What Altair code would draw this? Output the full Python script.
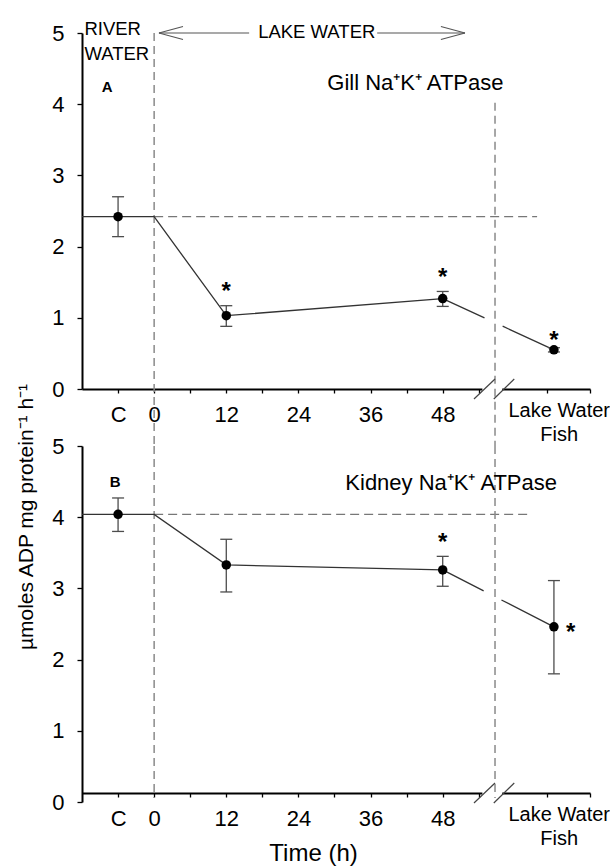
import altair as alt
import pandas as pd

FONT = "Liberation Sans"
NARROW = "Liberation Sans"

# ---------------- data ----------------
# x position in hours; C (river-water control) plotted at -6, lake-water fish at 66.5
times = [-6, 12, 48, 66.5]

gill_mean = [2.42, 1.03, 1.27, 0.55]
gill_lo = [2.14, 0.88, 1.16, 0.52]
gill_hi = [2.70, 1.17, 1.37, 0.58]
gill_star_x = [12, 48, 66.5]
gill_star_y = [1.45, 1.64, 0.76]

kid_mean = [4.04, 3.33, 3.26, 2.46]
kid_lo = [3.80, 2.95, 3.03, 1.80]
kid_hi = [4.27, 3.69, 3.45, 3.11]
kid_star_x = [48, 69.3]
kid_star_y = [3.72, 2.46]

x_tick_values = [-6, 0, 6, 12, 18, 24, 30, 36, 42, 48, 54, 65.4, 67.3, 72.5]
LW_LABEL = 67.3
y_tick_values = [0, 1, 2, 3, 4, 5]
X_DOMAIN = [-12, 72.5]
Y_DOMAIN = [0, 5]

transfer_x = 0          # river -> lake transfer (vertical dashed line)
lake_x = 56.7           # lake-water fish separator (vertical dashed line)
ref_end = [63.7, 62.8]  # end of horizontal control reference line (A, B)
break_gap = [54.6, 57.9]
slash_x1 = [53.2, 56.5]
slash_x2 = [56.7, 59.9]

# annotation geometry (data units)
arrow_shaft_x = [0.8, 37.1]
arrow_shaft_x2 = [15.8, 51.7]
arrow_arm_x = [0.8, 0.8, 51.7, 51.7]
arrow_arm_x2 = [4.8, 4.8, 47.7, 47.7]
arrow_arm_y2 = [5.09, 4.91, 5.09, 4.91]

W, H, GAP = 508, 356, 57

LABEL_EXPR = ("datum.value == -6 ? 'C' : datum.value == %s ? ['Lake Water', 'Fish'] : "
              "(datum.value >= 0 && datum.value <= 48 && datum.value %% 12 == 0) ? datum.label : ''") % LW_LABEL


def x_axis(title, offset):
    kw = dict(
        values=x_tick_values, labelExpr=LABEL_EXPR,
        tickSize={"condition": {"test": "datum.value == %s" % LW_LABEL, "value": 0}, "value": 4},
        labelFontSize={"condition": {"test": "datum.value == %s" % LW_LABEL, "value": 20}, "value": 22},
        labelLineHeight=24, labelPadding=11, labelOverlap=False, labelFlush=False, labelBound=False,
        labelFont=FONT, labelColor="black", domainColor="black", domainWidth=2,
        tickColor="black", tickWidth=1.3, grid=False, offset=offset,
    )
    if title:
        kw.update(title=title, titleFont=FONT, titleFontSize=24, titleFontWeight="normal",
                  titleColor="black", titleX=231, titleY=67, titleBaseline="alphabetic",
                  titleAlign="center", titleAnchor="middle")
    else:
        kw.update(title=None)
    return alt.Axis(**kw)


Y_AXIS = alt.Axis(values=y_tick_values, format="d", tickSize=5, labelFontSize=22, labelFont=FONT,
                  labelColor="black", labelPadding=13, domainColor="black", domainWidth=2,
                  tickColor="black", tickWidth=1.3, grid=False, title=None)


def panel(mean, lo, hi, sx, sy, letter, lx, ly, label, tx, ty, rend, xax, axis_px, top):
    xs = alt.Scale(domain=X_DOMAIN, nice=False, zero=False)
    ys = alt.Scale(domain=Y_DOMAIN, nice=False, zero=False)

    def X(f):
        return alt.X(f, type="quantitative", scale=xs, axis=xax)

    def Y(f):
        return alt.Y(f, type="quantitative", scale=ys, axis=Y_AXIS)

    pts = pd.DataFrame({"x": times, "y": mean, "lo": lo, "hi": hi})
    line_df = pd.DataFrame({"x": [X_DOMAIN[0], transfer_x, times[1], times[2]],
                            "y": [mean[0], mean[0], mean[1], mean[2]]})
    conn_df = pd.DataFrame({"x": times[2:4], "y": mean[2:4]})
    ref_df = pd.DataFrame({"x": [transfer_x], "x2": [rend], "y": [mean[0]]})
    star_df = pd.DataFrame({"x": sx, "y": sy})
    gap_df = pd.DataFrame({"x": [break_gap[0]], "x2": [break_gap[1]]})
    slash_df = pd.DataFrame({"x": slash_x1, "x2": slash_x2})
    letter_df = pd.DataFrame({"x": [lx], "y": [ly], "t": [letter]})
    label_df = pd.DataFrame({"x": [tx], "y": [ty], "t": [label]})

    base_pts = alt.Chart(pts)
    layers = []
    layers.append(alt.Chart(gap_df).mark_rect(color="white").encode(
        x=X("x"), x2=alt.X2("x2"), y=alt.value(axis_px - 3), y2=alt.value(axis_px + 3)))
    layers.append(alt.Chart(ref_df).mark_rule(color="#777777", strokeWidth=1.3, strokeDash=[9, 5]).encode(
        x=X("x"), x2=alt.X2("x2"), y=Y("y")))
    if top:
        vdf = pd.DataFrame({"x": [transfer_x, lake_x], "y": [5.0, 4.02]})
        layers.append(alt.Chart(vdf).mark_rule(color="#8a8a8a", strokeWidth=1.5, strokeDash=[8, 5]).encode(
            x=X("x"), y=Y("y"), y2=alt.value(H + GAP)))
    else:
        vdf = pd.DataFrame({"x": [transfer_x, lake_x]})
        layers.append(alt.Chart(vdf).mark_rule(color="#8a8a8a", strokeWidth=1.5, strokeDash=[8, 5]).encode(
            x=X("x"), y=alt.value(0), y2=alt.value(H - 4)))
    layers.append(alt.Chart(line_df).mark_line(color="#333333", strokeWidth=1.3).encode(
        x=X("x"), y=Y("y")))
    layers.append(alt.Chart(conn_df).mark_line(color="#333333", strokeWidth=1.3,
                                               strokeDash=[46, 20, 300]).encode(x=X("x"), y=Y("y")))
    layers.append(base_pts.mark_rule(color="#4d4d4d", strokeWidth=1.3).encode(
        x=X("x"), y=Y("lo"), y2=alt.Y2("hi")))
    layers.append(base_pts.mark_rule(color="#4d4d4d", strokeWidth=1.3, xOffset=-6, x2Offset=6).encode(
        x=X("x"), x2=alt.X2("x"), y=Y("lo")))
    layers.append(base_pts.mark_rule(color="#4d4d4d", strokeWidth=1.3, xOffset=-6, x2Offset=6).encode(
        x=X("x"), x2=alt.X2("x"), y=Y("hi")))
    layers.append(base_pts.mark_circle(size=90, color="black", opacity=1).encode(x=X("x"), y=Y("y")))
    layers.append(alt.Chart(star_df).mark_text(text="*", fontSize=24, fontWeight="bold", font=FONT,
                                               color="black", baseline="alphabetic", dy=13).encode(
        x=X("x"), y=Y("y")))
    layers.append(alt.Chart(slash_df).mark_rule(color="#444444", strokeWidth=1.2).encode(
        x=X("x"), x2=alt.X2("x2"), y=alt.value(axis_px + 10), y2=alt.value(axis_px - 10)))
    layers.append(alt.Chart(letter_df).mark_text(fontSize=15, fontWeight="bold", font=FONT, color="black",
                                                 baseline="middle", align="center").encode(
        x=X("x"), y=Y("y"), text="t:N"))
    layers.append(alt.Chart(label_df).mark_text(fontSize=22, font=FONT, color="black",
                                                baseline="alphabetic", align="left").encode(
        x=X("x"), y=Y("y"), text="t:N"))

    if top:
        river_df = pd.DataFrame({"x": [-11.6], "y": [4.97], "t": ["RIVER\nWATER"]})
        layers.append(alt.Chart(river_df).mark_text(fontSize=18.5, font=NARROW, color="black", lineBreak="\n",
                                                    lineHeight=25, baseline="alphabetic", align="left").encode(
            x=X("x"), y=Y("y"), text="t:N"))
        lake_df = pd.DataFrame({"x": [17.3], "y": [4.93], "t": ["LAKE WATER"]})
        layers.append(alt.Chart(lake_df).mark_text(fontSize=18.5, font=NARROW, color="black",
                                                   baseline="alphabetic", align="left").encode(
            x=X("x"), y=Y("y"), text="t:N"))
        shaft_df = pd.DataFrame({"x": arrow_shaft_x, "x2": arrow_shaft_x2, "y": [5.0, 5.0]})
        layers.append(alt.Chart(shaft_df).mark_rule(color="#555555", strokeWidth=1.1).encode(
            x=X("x"), x2=alt.X2("x2"), y=Y("y")))
        arm_df = pd.DataFrame({"x": arrow_arm_x, "x2": arrow_arm_x2, "y": [5.0] * 4, "y2": arrow_arm_y2})
        layers.append(alt.Chart(arm_df).mark_rule(color="#555555", strokeWidth=1.1).encode(
            x=X("x"), x2=alt.X2("x2"), y=Y("y"), y2=alt.Y2("y2")))
    else:
        yt_df = pd.DataFrame({"t": ["\u00b5moles ADP mg protein\u207b\u00b9 h\u207b\u00b9"]})
        layers.append(alt.Chart(yt_df).mark_text(fontSize=21, font=FONT, color="black", angle=270,
                                                 baseline="middle", align="center").encode(
            x=alt.value(-55), y=alt.value(71), text="t:N"))

    return alt.layer(*layers).properties(width=W, height=H)


panel_a = panel(gill_mean, gill_lo, gill_hi, gill_star_x, gill_star_y, "A", -7.8, 4.24,
                "Gill Na\u207aK\u207a ATPase", 28.8, 4.2, ref_end[0], x_axis(None, 0), H, True)
panel_b = panel(kid_mean, kid_lo, kid_hi, kid_star_x, kid_star_y, "B", -6.5, 4.49,
                "Kidney Na\u207aK\u207a ATPase", 31.8, 4.38, ref_end[1], x_axis("Time (h)", -9), H - 9, False)

chart = alt.vconcat(panel_a, panel_b, spacing=GAP, bounds="flush").properties(
    padding={"left": 15, "top": 20, "right": 0, "bottom": 5},
    background="white",
).configure_view(stroke=None)

chart.save("out.html", embed_options={"renderer": "svg", "actions": False})
